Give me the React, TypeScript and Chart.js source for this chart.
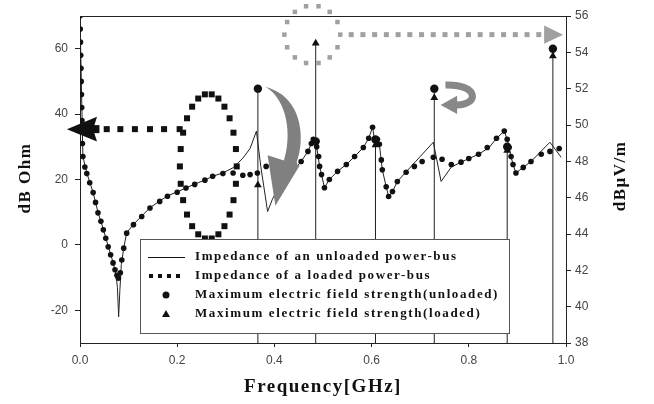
import React, { useEffect, useRef } from 'react';
import { Chart, registerables } from 'chart.js';

Chart.register(...registerables);

// ---------- data ----------
const unloadedFreq = [0, 0.003, 0.006, 0.014, 0.027, 0.037, 0.048, 0.058, 0.068, 0.074, 0.077, 0.0795, 0.082, 0.085, 0.09, 0.096, 0.11, 0.127, 0.144, 0.164, 0.18, 0.2, 0.236, 0.257, 0.273, 0.294, 0.315, 0.335, 0.35, 0.363, 0.372, 0.386, 0.396, 0.41, 0.43, 0.455, 0.469, 0.48, 0.487, 0.493, 0.497, 0.503, 0.513, 0.53, 0.548, 0.565, 0.583, 0.594, 0.602, 0.606, 0.616, 0.622, 0.63, 0.635, 0.643, 0.653, 0.69, 0.727, 0.743, 0.764, 0.784, 0.8, 0.82, 0.842, 0.857, 0.873, 0.879, 0.887, 0.891, 0.897, 0.912, 0.928, 0.967, 0.99];
const unloadedDb = [70, 48, 27, 22, 16, 10, 4.8, -0.4, -5.3, -9, -13, -22, -14, -6, -1, 3.7, 6.3, 8.8, 11.4, 13.4, 15, 16.2, 18.6, 19.8, 21, 22, 23.6, 26.5, 29.5, 34.8, 24, 10.2, 14, 18, 21.5, 25.5, 28.6, 32.3, 30, 24, 21.5, 17.5, 20, 22.5, 24.6, 27, 29.8, 32.6, 36, 32.3, 30.8, 23, 17.8, 14.8, 16.3, 19.4, 25.4, 31.4, 19.4, 23.8, 25.3, 26.4, 27.7, 29.8, 32.6, 34.8, 32.3, 27, 24.6, 22, 23.7, 25.5, 31.4, 26.8];

const loadedFreq = [0, 0.0005, 0.001, 0.0015, 0.002, 0.0025, 0.003, 0.0035, 0.004, 0.0045, 0.005, 0.006, 0.01, 0.014, 0.02, 0.027, 0.032, 0.037, 0.043, 0.048, 0.053, 0.058, 0.063, 0.068, 0.072, 0.076, 0.079, 0.083, 0.086, 0.09, 0.096, 0.11, 0.127, 0.144, 0.164, 0.18, 0.2, 0.218, 0.236, 0.257, 0.273, 0.294, 0.315, 0.335, 0.35, 0.365, 0.383, 0.4, 0.42, 0.44, 0.455, 0.469, 0.476, 0.48, 0.487, 0.491, 0.493, 0.497, 0.503, 0.513, 0.53, 0.548, 0.565, 0.583, 0.594, 0.602, 0.606, 0.612, 0.616, 0.62, 0.622, 0.63, 0.635, 0.643, 0.653, 0.671, 0.688, 0.704, 0.727, 0.745, 0.764, 0.784, 0.8, 0.82, 0.838, 0.857, 0.873, 0.879, 0.883, 0.887, 0.891, 0.897, 0.912, 0.928, 0.949, 0.967, 0.986];
const loadedDb = [70, 66, 62, 58, 54, 50, 46, 42, 38, 34.5, 31, 27, 23.8, 21.8, 19, 16, 13, 9.8, 7.2, 4.6, 2, -0.6, -3, -5.5, -7.6, -9.3, -10.2, -8.5, -4.6, -1, 3.6, 6.2, 8.7, 11.3, 13.3, 14.9, 16.1, 17.4, 18.5, 19.8, 21, 21.8, 22, 21.3, 21.5, 22, 24, 23.5, 24, 24.8, 25.5, 28.6, 31, 32.3, 30, 27, 24, 21.5, 17.5, 20, 22.5, 24.6, 27, 29.8, 32.6, 36, 32.3, 32.3, 30.8, 26, 23, 17.8, 14.8, 16.3, 19.4, 22.2, 24, 25.5, 26.8, 26.2, 24.6, 25.3, 26.4, 27.7, 29.8, 32.6, 34.8, 32.3, 29.8, 27, 24.6, 22, 23.7, 25.5, 27.7, 28.6, 29.5];

const fieldFreq = [0.366, 0.485, 0.608, 0.729, 0.879, 0.973];
const fieldUnloaded = [52.0, 49.1, 49.2, 52.0, 48.8, 54.2];
const fieldLoaded = [46.7, 54.5, 48.9, 51.5, 48.6, 53.8];

const xTicks = [0, 0.2, 0.4, 0.6, 0.8, 1.0];
const leftTicks = [-20, 0, 20, 40, 60];
const rightTicks = [38, 40, 42, 44, 46, 48, 50, 52, 54, 56];
const leftMin = -30;
const leftMax = 70;
const rightMin = 38;
const rightMax = 56;

const legendLabels = [
  'Impedance of an unloaded power-bus',
  'Impedance of a loaded power-bus',
  'Maximum electric field strength(unloaded)',
  'Maximum electric field strength(loaded)',
];
const xTitle = 'Frequency[GHz]';
const leftTitle = 'dB Ohm';
const rightTitle = 'dBμV/m';

// ---------- annotation geometry (data units) ----------
const arrowV = 35.4;
const arrowDotsF = [0.055, 0.083, 0.113, 0.144, 0.173, 0.205];
const ringBlack = { f: 0.264, v: 24, rf: 0.0585, rv: 22.2, n: 26 };
const ringGray = { f: 0.478, v: 64.3, rf: 0.0575, rv: 8.9, n: 14 };
const grayArrow = { v: 64.3, from: 0.558, to: 0.944, n: 17, tip: 0.994, base: 0.955, half: 2.8 };

function drawDecor(chart: any) {
  const ctx: CanvasRenderingContext2D = chart.ctx;
  const xs = chart.scales.x;
  const ys = chart.scales.y;
  const X = (f: number) => xs.getPixelForValue(f);
  const Y = (v: number) => ys.getPixelForValue(v);
  const sq = (x: number, y: number, s: number) => ctx.fillRect(x - s / 2, y - s / 2, s, s);
  ctx.save();

  // gray dotted ring + arrow (top)
  ctx.fillStyle = '#a0a0a0';
  for (let i = 0; i < ringGray.n; i++) {
    const a = (i / ringGray.n) * Math.PI * 2;
    sq(X(ringGray.f + ringGray.rf * Math.cos(a)), Y(ringGray.v + ringGray.rv * Math.sin(a)), 4.5);
  }
  for (let i = 0; i < grayArrow.n; i++) {
    const f = grayArrow.from + ((grayArrow.to - grayArrow.from) * i) / (grayArrow.n - 1);
    sq(X(f), Y(grayArrow.v), 5);
  }
  ctx.beginPath();
  ctx.moveTo(X(grayArrow.tip), Y(grayArrow.v));
  ctx.lineTo(X(grayArrow.base), Y(grayArrow.v + grayArrow.half));
  ctx.lineTo(X(grayArrow.base), Y(grayArrow.v - grayArrow.half));
  ctx.closePath();
  ctx.fill();

  // big gray crescent arrow
  ctx.fillStyle = '#808080';
  ctx.beginPath();
  ctx.moveTo(X(0.382), Y(48.3));
  ctx.bezierCurveTo(X(0.466), Y(45.2), X(0.466), Y(29.2), X(0.437), Y(22.5));
  ctx.lineTo(X(0.417), Y(24.6));
  ctx.bezierCurveTo(X(0.439), Y(33.8), X(0.425), Y(44.6), X(0.382), Y(48.3));
  ctx.closePath();
  ctx.fill();
  ctx.beginPath();
  ctx.moveTo(X(0.386), Y(27.4));
  ctx.lineTo(X(0.452), Y(24.3));
  ctx.lineTo(X(0.402), Y(12));
  ctx.closePath();
  ctx.fill();

  // small gray curved arrow
  ctx.strokeStyle = '#888';
  ctx.lineWidth = 7;
  ctx.beginPath();
  ctx.moveTo(X(0.752), Y(48.9));
  ctx.bezierCurveTo(X(0.822), Y(49.2), X(0.822), Y(42.6), X(0.773), Y(42.8));
  ctx.stroke();
  ctx.fillStyle = '#888';
  ctx.beginPath();
  ctx.moveTo(X(0.742), Y(42.8));
  ctx.lineTo(X(0.776), Y(45.6));
  ctx.lineTo(X(0.776), Y(40.0));
  ctx.closePath();
  ctx.fill();

  // black dotted arrow + ring
  ctx.fillStyle = '#111';
  arrowDotsF.forEach((f) => sq(X(f), Y(arrowV), 6));
  ctx.beginPath();
  ctx.moveTo(X(-0.027), Y(arrowV));
  ctx.lineTo(X(0.035), Y(arrowV + 3.8));
  ctx.lineTo(X(0.027), Y(arrowV));
  ctx.lineTo(X(0.035), Y(arrowV - 3.8));
  ctx.closePath();
  ctx.fill();
  ctx.fillRect(X(0.02), Y(arrowV) - 4, X(0.04) - X(0.02), 8);
  for (let i = 0; i < ringBlack.n; i++) {
    const a = (i / ringBlack.n) * Math.PI * 2;
    sq(X(ringBlack.f + ringBlack.rf * Math.cos(a)), Y(ringBlack.v + ringBlack.rv * Math.sin(a)), 6);
  }
  ctx.restore();
}

function drawLegendAndTitles(chart: any) {
  const ctx: any = chart.ctx;
  const area = chart.chartArea;
  ctx.save();
  // frame top line
  ctx.strokeStyle = '#222';
  ctx.lineWidth = 1;
  ctx.beginPath();
  ctx.moveTo(area.left, area.top + 0.5);
  ctx.lineTo(area.right, area.top + 0.5);
  ctx.stroke();

  // legend
  const lx = 140, ly = 239, lw = 369, lh = 94;
  ctx.fillStyle = '#fff';
  ctx.fillRect(lx, ly, lw, lh);
  ctx.strokeStyle = '#555';
  ctx.strokeRect(lx + 0.5, ly + 0.5, lw, lh);
  const rows = [257, 276, 295, 314];
  ctx.strokeStyle = '#111';
  ctx.lineWidth = 1;
  ctx.beginPath();
  ctx.moveTo(148, rows[0] + 0.5);
  ctx.lineTo(185, rows[0] + 0.5);
  ctx.stroke();
  ctx.fillStyle = '#111';
  [151, 160, 169, 178].forEach((x) => ctx.fillRect(x - 2, rows[1] - 2, 4, 4));
  ctx.beginPath();
  ctx.arc(166, rows[2], 3.5, 0, Math.PI * 2);
  ctx.fill();
  ctx.beginPath();
  ctx.moveTo(166, rows[3] - 4);
  ctx.lineTo(170, rows[3] + 3);
  ctx.lineTo(162, rows[3] + 3);
  ctx.closePath();
  ctx.fill();
  ctx.font = 'bold 13px "Liberation Serif"';
  ctx.letterSpacing = '1.6px';
  ctx.textBaseline = 'middle';
  ctx.textAlign = 'left';
  legendLabels.forEach((t, i) => ctx.fillText(t, 195, rows[i]));

  // axis titles
  ctx.fillStyle = '#111';
  ctx.textAlign = 'center';
  ctx.font = 'bold 19px "Liberation Serif"';
  ctx.letterSpacing = '1.5px';
  ctx.fillText(xTitle, (area.left + area.right) / 2, 387);
  ctx.font = 'bold 17px "Liberation Serif"';
  ctx.letterSpacing = '1.5px';
  ctx.save();
  ctx.translate(26, 178);
  ctx.rotate(-Math.PI / 2);
  ctx.fillText(leftTitle, 0, 0);
  ctx.restore();
  ctx.save();
  ctx.translate(621, 176);
  ctx.rotate(-Math.PI / 2);
  ctx.fillText(rightTitle, 0, 0);
  ctx.restore();
  ctx.restore();
}

const decorPlugin = {
  id: 'decor',
  afterDatasetsDraw(chart: any) {
    drawDecor(chart);
  },
  afterDraw(chart: any) {
    drawLegendAndTitles(chart);
  },
};

const tickFont = { family: '"Liberation Sans", Arial, sans-serif', size: 12 };

export default function App() {
  const ref = useRef<HTMLCanvasElement>(null);
  useEffect(() => {
    const canvas = ref.current!;
    const stems: any[] = [];
    fieldFreq.forEach((f, i) => {
      stems.push({ x: f, y: rightMin });
      stems.push({ x: f, y: Math.max(fieldUnloaded[i], fieldLoaded[i]) });
      stems.push({ x: f, y: null });
    });
    const chart = new Chart(canvas, {
      type: 'scatter',
      data: {
        datasets: [
          {
            label: legendLabels[3],
            data: fieldFreq.map((f, i) => ({ x: f, y: fieldLoaded[i] })),
            yAxisID: 'y2',
            pointStyle: 'triangle',
            pointRadius: 4.5,
            backgroundColor: '#111',
            borderColor: '#111',
            borderWidth: 0,
            order: 0,
          },
          {
            label: legendLabels[2],
            data: fieldFreq.map((f, i) => ({ x: f, y: fieldUnloaded[i] })),
            yAxisID: 'y2',
            pointStyle: 'circle',
            pointRadius: 4.2,
            backgroundColor: '#111',
            borderColor: '#111',
            borderWidth: 0,
            order: 1,
          },
          {
            label: legendLabels[1],
            data: loadedFreq.map((f, i) => ({ x: f, y: loadedDb[i] })),
            yAxisID: 'y',
            pointStyle: 'circle',
            pointRadius: 2.8,
            backgroundColor: '#111',
            borderColor: '#111',
            borderWidth: 0,
            showLine: false,
            order: 2,
          },
          {
            label: legendLabels[0],
            data: unloadedFreq.map((f, i) => ({ x: f, y: unloadedDb[i] })),
            yAxisID: 'y',
            showLine: true,
            pointRadius: 0,
            borderColor: '#222',
            borderWidth: 1,
            tension: 0,
            order: 3,
          },
          {
            label: 'stems',
            data: stems,
            yAxisID: 'y2',
            showLine: true,
            spanGaps: false,
            pointRadius: 0,
            borderColor: '#222',
            borderWidth: 1,
            order: 4,
          },
        ],
      },
      options: {
        responsive: false,
        animation: false,
        devicePixelRatio: 1,
        layout: { padding: { top: 16, left: 0, right: 0, bottom: 0 } },
        plugins: { legend: { display: false }, tooltip: { enabled: false } },
        scales: {
          x: {
            type: 'linear',
            min: 0,
            max: 1,
            afterBuildTicks: (s: any) => {
              s.ticks = xTicks.map((v) => ({ value: v }));
            },
            afterFit: (s: any) => {
              s.height = 61;
            },
            ticks: {
              callback: (v: any) => Number(v).toFixed(1),
              font: tickFont,
              color: '#444',
              padding: 6,
              autoSkip: false,
              maxRotation: 0,
            },
            grid: { drawOnChartArea: false, drawTicks: true, tickLength: 4, color: '#222' },
            border: { color: '#222', width: 1 },
          },
          y: {
            type: 'linear',
            position: 'left',
            min: leftMin,
            max: leftMax,
            afterBuildTicks: (s: any) => {
              s.ticks = leftTicks.map((v) => ({ value: v }));
            },
            afterFit: (s: any) => {
              s.width = 80;
            },
            ticks: { font: tickFont, color: '#444', padding: 7, autoSkip: false },
            grid: { drawOnChartArea: false, drawTicks: true, tickLength: 5, color: '#222' },
            border: { color: '#222', width: 1 },
          },
          y2: {
            type: 'linear',
            position: 'right',
            min: rightMin,
            max: rightMax,
            afterBuildTicks: (s: any) => {
              s.ticks = rightTicks.map((v) => ({ value: v }));
            },
            afterFit: (s: any) => {
              s.width = 88;
            },
            ticks: { font: tickFont, color: '#444', padding: 4, autoSkip: false },
            grid: { drawOnChartArea: false, drawTicks: true, tickLength: 5, color: '#222' },
            border: { color: '#222', width: 1 },
          },
        },
      } as any,
      plugins: [decorPlugin],
    });
    return () => chart.destroy();
  }, []);
  return (
    <div style={{ position: 'fixed', left: 0, top: 0, width: 654, height: 404, background: '#fff' }}>
      <canvas ref={ref} width={654} height={404} style={{ display: 'block' }} />
    </div>
  );
}
